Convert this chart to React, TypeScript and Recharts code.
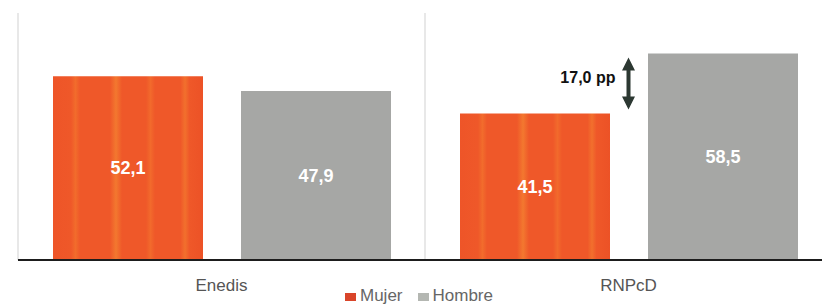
import React from 'react';
import { BarChart, Bar, XAxis, YAxis, CartesianGrid, LabelList, Legend, ReferenceLine } from 'recharts';

const categories = ['Enedis', 'RNPcD'];
const mujer = [52.1, 41.5];
const hombre = [47.9, 58.5];
const seriesNames = ['Mujer', 'Hombre'];
const gapLabel = '17,0 pp';
const gapCategory = 'RNPcD';

const data = categories.map((c, i) => ({ name: c, Mujer: mujer[i], Hombre: hombre[i] }));

const FONT = '"Liberation Sans", Arial, sans-serif';
const GRAY = '#a6a7a5';

const fmt = (v: any) => Number(v).toFixed(1).replace('.', ',');

const ArrowShape = (props: any) => {
  const { x1, y1, x2, y2 } = props;
  if (x1 == null || y1 == null) return null;
  const x = x1;
  const top = Math.min(y1, y2) + 4;
  const bot = Math.max(y1, y2) - 4;
  const hl = 13;
  const hw = 6.5;
  const sw = 2;
  const c = '#2c3832';
  const d = `M${x},${top} L${x + hw},${top + hl} L${x + sw},${top + hl} L${x + sw},${bot - hl} L${x + hw},${bot - hl} L${x},${bot} L${x - hw},${bot - hl} L${x - sw},${bot - hl} L${x - sw},${top + hl} L${x - hw},${top + hl} Z`;
  return (
    <g>
      <path d={d} fill={c} />
      <text x={x - 13} y={(top + bot) / 2 - 6} textAnchor="end" dominantBaseline="central" fontFamily={FONT} fontWeight="bold" fontSize={16} fill="#111">
        {gapLabel}
      </text>
    </g>
  );
};

const LegendContent = () => (
  <div style={{ display: 'flex', justifyContent: 'center', alignItems: 'center', height: 20, fontFamily: FONT, fontSize: 17, color: '#666', marginLeft: -12 }}>
    {seriesNames.map((n, i) => (
      <span key={n} style={{ display: 'inline-flex', alignItems: 'center', marginRight: i === 0 ? 15 : 0 }}>
        <span style={{ display: 'inline-block', width: 11, height: 8, background: i === 0 ? '#d9452a' : '#b4b7b2', marginRight: 4, marginTop: 2 }} />
        {n}
      </span>
    ))}
  </div>
);

export default function App() {
  return (
    <div style={{ position: 'absolute', left: 0, top: 0, width: 822, height: 306, overflow: 'hidden', background: '#fff' }}>
      <BarChart
        width={832}
        height={306}
        data={data}
        margin={{ top: 13, right: 0, bottom: 0, left: 18 }}
        barCategoryGap={35}
        barGap={38}
      >
        <defs>
          <linearGradient id="orangeStreak" x1="0" y1="0" x2="1" y2="0">
            <stop offset="0" stopColor="#ee5528" />
            <stop offset="0.12" stopColor="#ef5829" />
            <stop offset="0.15" stopColor="#f26c2c" />
            <stop offset="0.18" stopColor="#ef5829" />
            <stop offset="0.38" stopColor="#ef5829" />
            <stop offset="0.42" stopColor="#f3782f" />
            <stop offset="0.46" stopColor="#ef5829" />
            <stop offset="0.62" stopColor="#ef5829" />
            <stop offset="0.65" stopColor="#f26a2c" />
            <stop offset="0.68" stopColor="#ef5829" />
            <stop offset="0.85" stopColor="#ef5829" />
            <stop offset="0.88" stopColor="#f2702d" />
            <stop offset="0.91" stopColor="#ef5829" />
            <stop offset="1" stopColor="#ec5226" />
          </linearGradient>
        </defs>
        <CartesianGrid
          horizontal={false}
          vertical
          stroke="#e0e0e0"
          strokeWidth={1.5}
          verticalCoordinatesGenerator={({ offset }: any) => [offset.left, offset.left + offset.width / 2]}
        />
        <XAxis
          dataKey="name"
          height={26}
          tickLine={false}
          axisLine={{ stroke: '#1d1d1d', strokeWidth: 2 }}
          tickMargin={13}
          tick={{ fontFamily: FONT, fontSize: 17, fill: '#555' }}
          interval={0}
        />
        <YAxis hide domain={[0, 70]} />
        <Legend verticalAlign="bottom" height={20} content={<LegendContent />} />
        <Bar dataKey="Mujer" name={seriesNames[0]} fill="url(#orangeStreak)" isAnimationActive={false}>
          <LabelList dataKey="Mujer" position="center" formatter={fmt} fill="#fff" fontSize={18} fontWeight="bold" fontFamily={FONT} />
        </Bar>
        <Bar dataKey="Hombre" name={seriesNames[1]} fill={GRAY} isAnimationActive={false}>
          <LabelList dataKey="Hombre" position="center" formatter={fmt} fill="#fff" fontSize={18} fontWeight="bold" fontFamily={FONT} />
        </Bar>
        <ReferenceLine
          segment={[{ x: gapCategory, y: hombre[1] }, { x: gapCategory, y: mujer[1] }]}
          shape={ArrowShape}
          ifOverflow="visible"
        />
      </BarChart>
    </div>
  );
}
